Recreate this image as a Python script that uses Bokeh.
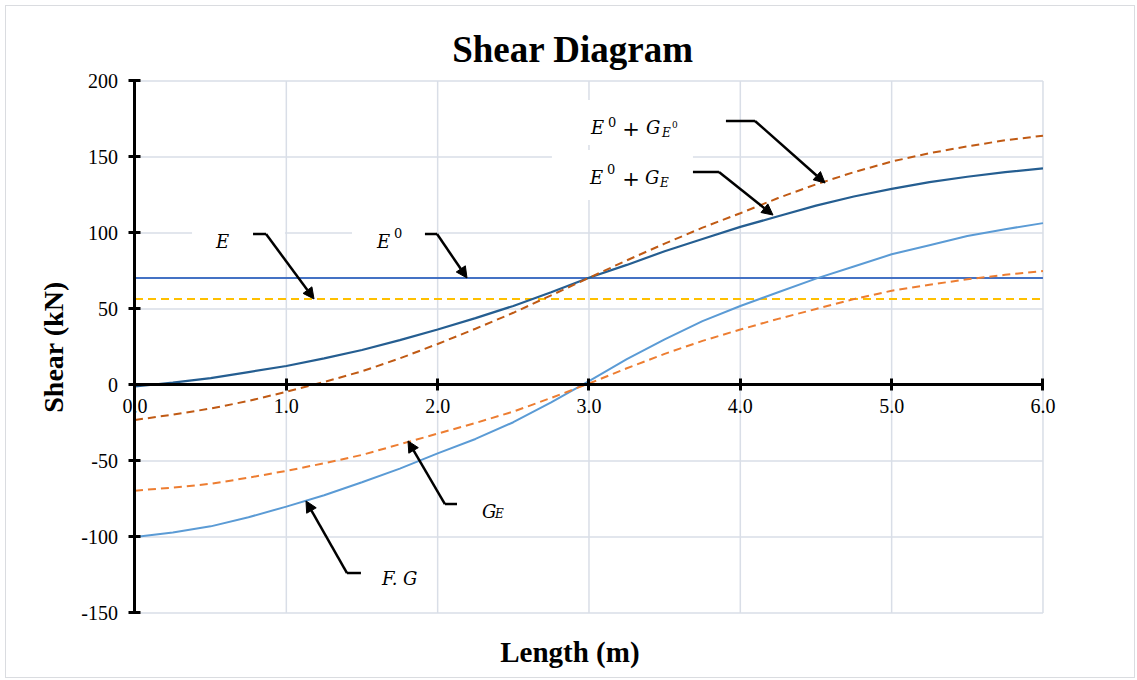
import math
from bokeh.plotting import figure
from bokeh.models import (Range1d, FixedTicker, NumeralTickFormatter, Arrow, NormalHead, Label)
from bokeh.core.properties import value
from bokeh.embed import file_html
from bokeh.resources import INLINE

# ---------------- data ----------------
length_m = [0.0, 0.25, 0.5, 0.75, 1.0, 1.25, 1.5, 1.75, 2.0, 2.25, 2.5, 2.75, 3.0,
            3.25, 3.5, 3.75, 4.0, 4.25, 4.5, 4.75, 5.0, 5.25, 5.5, 5.75, 6.0]
shear_fg = [-100, -97, -93, -87, -80, -72.5, -64, -55, -45, -35.5, -24.5, -11.5, 2.5,
            17, 30, 42, 52, 61, 70, 78, 86, 92, 98, 102.5, 106.5]
shear_ge = [-69.5, -67.5, -65, -61, -56.5, -51.5, -46, -39, -32, -25, -17.5, -8.5, 1,
            11, 20.5, 29, 36.5, 43.5, 50, 56.5, 62, 66, 69.5, 72.5, 75]
shear_e0_ge = [-1, 1.5, 4.5, 8.5, 12.5, 17.5, 23, 29.5, 36.5, 44, 52, 61, 70.5,
               79, 88, 96, 104, 111, 118, 124, 129, 133.5, 137, 140, 142.5]
shear_e0_ge0 = [-23, -19.5, -15.5, -10.5, -4.5, 2, 9, 17.5, 27, 37, 47.5, 59, 70.5,
                82, 93, 103.5, 113, 123, 132, 140, 147, 152.5, 157, 161, 164]
e0_level = 70.4
e_level = 56.5
x_ticks = [0, 1, 2, 3, 4, 5, 6]
y_ticks = [-150, -100, -50, 0, 50, 100, 150, 200]

SERIF = "Liberation Serif"
MATH = "DejaVu Serif"
GRID = "#D9DEE7"

# the plot frame covers the whole canvas; axes are drawn at x = 0 and y = 0
p = figure(frame_width=1128, frame_height=671,
           min_border_left=0, min_border_right=0, min_border_top=0, min_border_bottom=0,
           x_range=Range1d(-0.8491, 6.6048), y_range=Range1d(-192.44, 249.01),
           output_backend="svg", toolbar_location=None,
           background_fill_color="white", border_fill_color="white")
p.outline_line_color = None
p.title.visible = False
p.styles = {"border": "1.5px solid #DADCE0", "margin": "5px 0px 0px 5px"}
p.xgrid.visible = False
p.ygrid.visible = False

# grid lines restricted to the data area
p.segment(x0=x_ticks, x1=x_ticks, y0=[y_ticks[0]] * len(x_ticks), y1=[y_ticks[-1]] * len(x_ticks),
          line_color=GRID, line_width=1.5)
p.segment(x0=[x_ticks[0]] * len(y_ticks), x1=[x_ticks[-1]] * len(y_ticks), y0=y_ticks, y1=y_ticks,
          line_color=GRID, line_width=1.5)

# axes
for ax in (p.xaxis, p.yaxis):
    ax.axis_line_color = "black"
    ax.axis_line_width = 3
    ax.major_tick_line_color = "black"
    ax.major_tick_line_width = 3
    ax.major_tick_in = 6
    ax.major_tick_out = 6
    ax.minor_tick_line_color = None
    ax.major_label_text_font = SERIF
    ax.major_label_text_font_size = "20px"
    ax.major_label_text_color = "black"

p.xaxis.ticker = FixedTicker(ticks=x_ticks)
p.xaxis.formatter = NumeralTickFormatter(format="0.0")
p.xaxis.fixed_location = 0
p.xaxis.bounds = (x_ticks[0], x_ticks[-1])
p.xaxis.major_label_standoff = 8

p.yaxis.ticker = FixedTicker(ticks=y_ticks)
p.yaxis.formatter = NumeralTickFormatter(format="0")
p.yaxis.fixed_location = 0
p.yaxis.bounds = (y_ticks[0], y_ticks[-1])
p.yaxis.major_label_standoff = 11

# titles
p.add_layout(Label(x=2.894, y=220.7, text="Shear Diagram", text_align="center",
                   text_baseline="alphabetic", text_font=SERIF, text_font_size="37px",
                   text_font_style="bold", text_color="black"))
p.add_layout(Label(x=2.874, y=-175.9, text="Length (m)", text_align="center",
                   text_baseline="alphabetic", text_font=SERIF, text_font_size="29px",
                   text_font_style="bold", text_color="black"))
p.add_layout(Label(x=-0.539, y=25.0, text="Shear (kN)", angle=math.pi / 2,
                   text_align="center", text_baseline="alphabetic", text_font=SERIF,
                   text_font_size="28px", text_font_style="bold", text_color="black"))

# white boxes behind the annotation labels
p.quad(left=[0.377, 1.434, 2.755, 2.755], right=[0.991, 1.989, 3.866, 3.687],
       bottom=[87.5, 87.5, 157.9, 121.7], top=[111.8, 111.8, 187.5, 154.6],
       fill_color="white", line_color=None)

# series
p.line([length_m[0], length_m[-1]], [e0_level, e0_level], line_color="#4472C4", line_width=2)
p.line([length_m[0], length_m[-1]], [e_level, e_level], line_color="#FFC000", line_width=2,
       line_dash="8 5")
p.line(length_m, shear_fg, line_color="#5B9BD5", line_width=2)
p.line(length_m, shear_ge, line_color="#ED7D31", line_width=2, line_dash="8 5")
p.line(length_m, shear_e0_ge, line_color="#255E91", line_width=2.2)
p.line(length_m, shear_e0_ge0, line_color="#C05A14", line_width=2, line_dash="8 5")

# arrows (elbow start, elbow end, tip)
arrows = [
    ((0.780, 99.3), (0.866, 99.3), (1.183, 56.6)),
    ((1.916, 99.3), (1.996, 99.3), (2.194, 70.4)),
    ((3.905, 173.7), (4.097, 173.7), (4.560, 132.9)),
    ((3.687, 140.1), (3.859, 140.1), (4.216, 111.8)),
    ((2.128, -78.3), (2.048, -78.3), (1.804, -36.8)),
    ((1.493, -123.7), (1.401, -123.7), (1.130, -76.3)),
]
for (x0, y0), (x1, y1), (x2, y2) in arrows:
    p.line([x0, x1], [y0, y1], line_color="black", line_width=2.5)
    p.add_layout(Arrow(end=NormalHead(size=11, fill_color="black", line_color="black"),
                       x_start=x1, y_start=y1, x_end=x2, y_end=y2,
                       line_color="black", line_width=2.5))


def txt(x, y, s, size, style="italic"):
    p.text(x=[x], y=[y], text=[s], text_font=value(MATH), text_font_size=f"{size}px",
           text_font_style=style, text_color="black", text_align="left",
           text_baseline="alphabetic")


# labels
txt(0.535, 94.1, "E", 18)
txt(1.599, 94.1, "E", 18)
txt(1.711, 100.0, "0", 13, "normal")

txt(3.013, 169.1, "E", 18)
txt(3.126, 173.0, "0", 13, "normal")
txt(3.220, 168.6, "+", 21, "normal")
txt(3.377, 169.1, "G", 18)
txt(3.482, 165.8, "E", 12)
txt(3.549, 171.7, "0", 9, "normal")

txt(3.007, 136.2, "E", 18)
txt(3.119, 142.1, "0", 13, "normal")
txt(3.220, 135.7, "+", 21, "normal")
txt(3.370, 136.2, "G", 18)
txt(3.469, 132.9, "E", 12)

txt(2.293, -82.9, "G", 18)
txt(2.379, -84.9, "E", 12)

txt(1.632, -127.0, "F. G", 18)

open("out.html", "w").write(file_html(p, INLINE))
